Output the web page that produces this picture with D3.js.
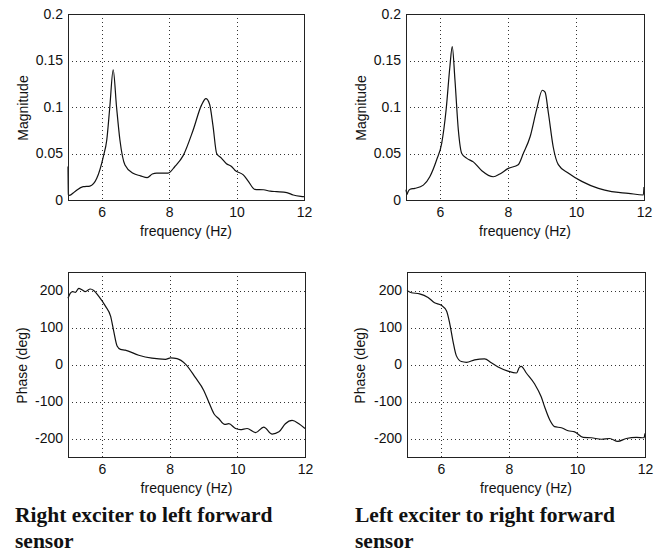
<!DOCTYPE html>
<html>
<head>
<meta charset="utf-8">
<script src="https://cdn.jsdelivr.net/npm/d3@7"></script>
<style>
  html, body { margin: 0; padding: 0; background: #fff; }
  svg { display: block; }
</style>
</head>
<body>
<svg id="chart" width="670" height="554"></svg>
<script>
// ---------------- DATA ----------------
const freqTicks = [6, 8, 10, 12];
const freqTickLabels = ["6", "8", "10", "12"];
const magTicks = [0, 0.05, 0.1, 0.15, 0.2];
const magTickLabels = ["0", "0.05", "0.1", "0.15", "0.2"];
const phaseTicks = [-200, -100, 0, 100, 200];
const phaseTickLabels = ["-200", "-100", "0", "100", "200"];

// Right exciter to left forward sensor: magnitude
const magLeftFreq = [5.0, 5.01, 5.04, 5.2, 5.45, 5.65, 5.85, 6.05, 6.15, 6.24, 6.34, 6.44, 6.54, 6.69, 6.93, 7.15, 7.35, 7.5, 7.63, 7.8, 7.97, 8.17, 8.42, 8.71, 8.96, 9.09, 9.2, 9.3, 9.41, 9.55, 9.7, 9.85, 9.95, 10.2, 10.35, 10.54, 10.8, 11.0, 11.19, 11.49, 11.68, 11.98, 12.0];
const magLeftVal  = [0.036, 0.006, 0.005, 0.009, 0.0143, 0.015, 0.023, 0.047, 0.0645, 0.1, 0.14, 0.1, 0.0645, 0.0376, 0.0287, 0.026, 0.024, 0.028, 0.029, 0.029, 0.029, 0.036, 0.048, 0.075, 0.102, 0.109, 0.103, 0.08, 0.05, 0.045, 0.039, 0.036, 0.032, 0.027, 0.02, 0.0115, 0.011, 0.0095, 0.009, 0.008, 0.0054, 0.0036, 0.0035];

// Left exciter to right forward sensor: magnitude
const magRightFreq = [5.0, 5.03, 5.06, 5.12, 5.26, 5.51, 5.7, 5.9, 6.05, 6.18, 6.29, 6.36, 6.44, 6.54, 6.64, 6.78, 6.98, 7.23, 7.57, 7.76, 8.01, 8.3, 8.45, 8.65, 8.84, 9.01, 9.09, 9.19, 9.33, 9.48, 9.77, 10.17, 10.66, 11.05, 11.54, 11.98, 12.0];
const magRightVal  = [0.011, 0.006, 0.009, 0.0115, 0.0125, 0.016, 0.025, 0.043, 0.061, 0.097, 0.143, 0.165, 0.129, 0.075, 0.05, 0.045, 0.041, 0.0315, 0.025, 0.028, 0.034, 0.038, 0.05, 0.068, 0.097, 0.118, 0.116, 0.093, 0.057, 0.038, 0.029, 0.02, 0.0125, 0.009, 0.0072, 0.0054, 0.014];

// Right exciter to left forward sensor: phase
const phaseLeftFreq = [5.0, 5.07, 5.14, 5.22, 5.32, 5.41, 5.51, 5.66, 5.76, 5.91, 6.11, 6.26, 6.35, 6.45, 6.55, 6.69, 7.09, 7.48, 7.88, 8.03, 8.22, 8.47, 8.76, 9.01, 9.16, 9.31, 9.45, 9.63, 9.75, 9.95, 10.09, 10.29, 10.54, 10.78, 11.03, 11.23, 11.42, 11.62, 11.82, 12.0];
const phaseLeftVal  = [179, 193, 197, 195, 206, 202, 197, 204, 200, 184, 157, 130, 90, 50, 41, 39, 25, 17, 14, 18, 16, 1, -35, -70, -102, -133, -146, -162, -160, -173, -176, -173, -184, -169, -188, -182, -160, -151, -160, -173];

// Left exciter to right forward sensor: phase
const phaseRightFreq = [5.0, 5.13, 5.37, 5.62, 5.81, 6.01, 6.16, 6.25, 6.35, 6.45, 6.6, 6.75, 6.99, 7.28, 7.48, 7.68, 7.97, 8.22, 8.31, 8.36, 8.51, 8.75, 8.95, 9.05, 9.2, 9.34, 9.54, 9.74, 9.93, 10.18, 10.42, 10.72, 10.96, 11.2, 11.45, 11.75, 11.97, 12.0];
const phaseRightVal  = [200, 194, 191, 181, 167, 160, 145, 114, 64, 24, 8, 6, 12.5, 15, 4.5, -7, -18, -23, -7, -5, -23, -52, -88, -115, -150, -168, -171, -179, -182, -197, -198, -202, -200, -208, -200, -197, -198, -186];

const captionLeft = ["Right exciter to left forward", "sensor"];
const captionRight = ["Left exciter to right forward", "sensor"];

// ---------------- LAYOUT ----------------
const panels = [
  { x0: 68,  x1: 304, y0: 14,  y1: 200, yDomain: [0, 0.2],    yTicks: magTicks,   yLabels: magTickLabels,   yTitle: "Magnitude",   titleX: 28,  freq: magLeftFreq,   val: magLeftVal },
  { x0: 406, x1: 644, y0: 14,  y1: 200, yDomain: [0, 0.2],    yTicks: magTicks,   yLabels: magTickLabels,   yTitle: "Magnitude",   titleX: 366, freq: magRightFreq,  val: magRightVal },
  { x0: 68,  x1: 305, y0: 272, y1: 457, yDomain: [-250, 250], yTicks: phaseTicks, yLabels: phaseTickLabels, yTitle: "Phase (deg)", titleX: 27,  freq: phaseLeftFreq, val: phaseLeftVal },
  { x0: 407, x1: 645, y0: 272, y1: 457, yDomain: [-250, 250], yTicks: phaseTicks, yLabels: phaseTickLabels, yTitle: "Phase (deg)", titleX: 365, freq: phaseRightFreq, val: phaseRightVal }
];

const svg = d3.select("#chart");
svg.append("rect").attr("width", 670).attr("height", 554).attr("fill", "#fff");

const sans = "'Liberation Sans', Arial, Helvetica, sans-serif";

panels.forEach(p => {
  const x = d3.scaleLinear().domain([5, 12]).range([p.x0, p.x1]);
  const y = d3.scaleLinear().domain(p.yDomain).range([p.y1, p.y0]);
  const g = svg.append("g");

  // grid
  g.selectAll(".gx").data(freqTicks.filter(t => t < 12)).enter().append("line")
    .attr("x1", d => Math.round(x(d)) + 0.5).attr("x2", d => Math.round(x(d)) + 0.5)
    .attr("y1", p.y0).attr("y2", p.y1)
    .attr("stroke", "#333").attr("stroke-width", 1).attr("stroke-dasharray", "1,3");
  g.selectAll(".gy").data(p.yTicks.filter(t => y(t) > p.y0 + 1 && y(t) < p.y1 - 1)).enter().append("line")
    .attr("x1", p.x0).attr("x2", p.x1)
    .attr("y1", d => Math.round(y(d)) + 0.5).attr("y2", d => Math.round(y(d)) + 0.5)
    .attr("stroke", "#333").attr("stroke-width", 1).attr("stroke-dasharray", "1,3");

  // curve
  const pts = p.freq.map((f, i) => [f, p.val[i]]);
  const line = d3.line().x(d => x(d[0])).y(d => y(d[1])).curve(d3.curveMonotoneX);
  g.append("path").datum(pts).attr("d", line)
    .attr("fill", "none").attr("stroke", "#111").attr("stroke-width", 1.2);

  // box
  g.append("rect").attr("x", p.x0 + 0.5).attr("y", p.y0 + 0.5)
    .attr("width", p.x1 - p.x0).attr("height", p.y1 - p.y0)
    .attr("fill", "none").attr("stroke", "#222").attr("stroke-width", 1);

  // axes (labels only)
  const ax = d3.axisBottom(x).tickValues(freqTicks).tickFormat((d, i) => freqTickLabels[i]).tickSize(0).tickPadding(7.5);
  const axG = g.append("g").attr("transform", `translate(0,${p.y1})`).call(ax);
  axG.select(".domain").remove();
  axG.selectAll("text").attr("font-size", 14).attr("font-family", sans).attr("fill", "#111");

  const ay = d3.axisLeft(y).tickValues(p.yTicks).tickFormat((d, i) => p.yLabels[i]).tickSize(0).tickPadding(5);
  const ayG = g.append("g").attr("transform", `translate(${p.x0},0)`).call(ay);
  ayG.select(".domain").remove();
  ayG.selectAll("text").attr("font-size", 14).attr("font-family", sans).attr("fill", "#111");

  // axis titles
  g.append("text").attr("x", (p.x0 + p.x1) / 2).attr("y", p.y1 + 36)
    .attr("text-anchor", "middle").attr("font-size", 14).attr("font-family", sans).attr("fill", "#111")
    .text("frequency (Hz)");
  const cy = (p.y0 + p.y1) / 2 + 1;
  g.append("text").attr("transform", `translate(${p.titleX},${cy}) rotate(-90)`)
    .attr("text-anchor", "middle").attr("font-size", 14).attr("font-family", sans).attr("fill", "#111")
    .text(p.yTitle);
});

// captions
const serif = "'Liberation Serif', 'Times New Roman', Times, serif";
[[captionLeft, 15], [captionRight, 355]].forEach(([lines, cx]) => {
  const t = svg.append("text").attr("font-family", serif).attr("font-weight", "bold")
    .attr("font-size", 21.5).attr("fill", "#111");
  lines.forEach((s, i) => {
    t.append("tspan").attr("x", cx).attr("y", 522 + i * 26).text(s);
  });
});
</script>
</body>
</html>
